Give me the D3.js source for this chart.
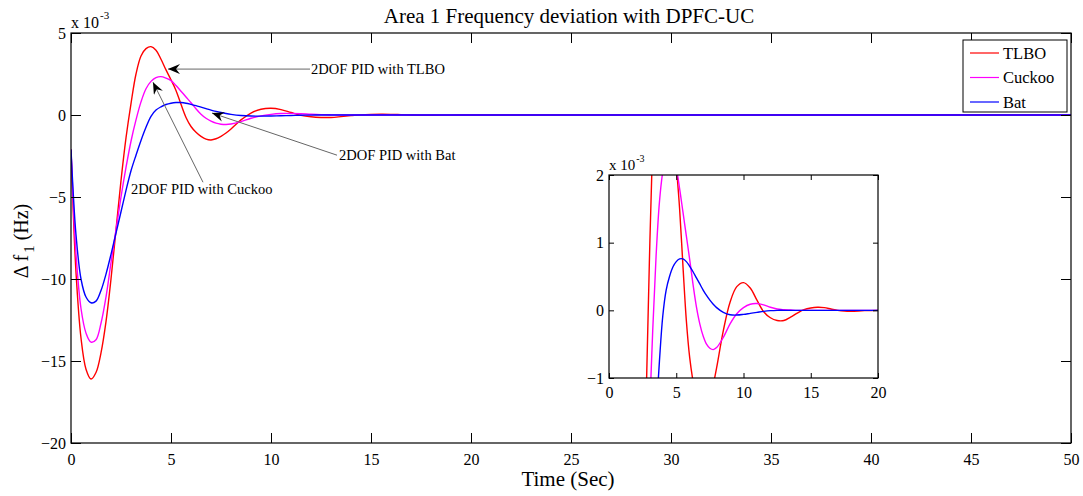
<!DOCTYPE html>
<html>
<head>
<meta charset="utf-8">
<script src="https://cdn.jsdelivr.net/npm/d3@7"></script>
<style>
  body { margin: 0; background: #fff; }
  svg text { font-family: "Liberation Serif", "Times New Roman", serif; fill: #000; }
</style>
</head>
<body>
<svg id="chart" width="1083" height="496"></svg>
<script>
// time (s) and frequency deviation (x 10^-3 Hz)
const time = [0, 0.1, 0.25, 0.5, 0.75, 1.0, 1.25, 1.5, 1.75, 2.0,
  2.25, 2.5, 2.75, 3.0, 3.25, 3.5, 3.75, 4.0, 4.25, 4.5,
  4.75, 5.0, 5.25, 5.5, 5.75, 6.0, 6.25, 6.5, 6.75, 7.0,
  7.25, 7.5, 7.75, 8.0, 8.5, 9.0, 9.5, 10, 10.5, 11,
  11.5, 12, 12.5, 13, 13.5, 14, 14.5, 15, 15.5, 16,
  16.5, 17, 17.5, 18, 19, 20, 25, 30, 40, 50];

const tlbo = [-2.1, -5.5, -9.6, -13.6, -15.5, -16.1, -15.7, -14.5, -12.6, -10.0,
  -7.0, -4.0, -1.4, 0.7, 2.5, 3.6, 4.05, 4.17, 3.95, 3.4,
  2.75, 2.15, 1.5, 0.65, -0.15, -0.7, -1.05, -1.3, -1.47, -1.52,
  -1.45, -1.3, -1.1, -0.85, -0.3, 0.12, 0.35, 0.41, 0.33, 0.15,
  -0.02, -0.11, -0.15, -0.15, -0.1, -0.04, 0.01, 0.035, 0.045, 0.04,
  0.02, 0.0, -0.012, -0.015, -0.005, 0, 0, 0, 0, 0];

const cuckoo = [-2.1, -5.0, -8.5, -11.8, -13.3, -13.85, -13.7, -12.7, -11.1, -9.0,
  -7.0, -5.0, -3.2, -1.6, -0.3, 0.8, 1.6, 2.05, 2.28, 2.34,
  2.25, 2.1, 1.8, 1.45, 1.1, 0.75, 0.38, 0.05, -0.2, -0.38,
  -0.5, -0.56, -0.58, -0.55, -0.4, -0.2, -0.05, 0.04, 0.09, 0.1,
  0.08, 0.045, 0.02, 0.01, 0.005, 0, 0, 0, 0, 0,
  0, 0, 0, 0, 0, 0, 0, 0, 0, 0];

const bat = [-2.1, -4.5, -7.3, -10.0, -11.1, -11.45, -11.35, -10.7, -9.7, -8.5,
  -7.2, -5.9, -4.6, -3.4, -2.45, -1.55, -0.75, -0.08, 0.3, 0.5,
  0.64, 0.72, 0.76, 0.76, 0.72, 0.65, 0.57, 0.48, 0.39, 0.3,
  0.22, 0.15, 0.09, 0.04, -0.03, -0.065, -0.07, -0.06, -0.045, -0.03,
  -0.015, -0.005, 0, 0, 0, 0, 0, 0, 0, 0,
  0, 0, 0, 0, 0, 0, 0, 0, 0, 0];

const seriesNames = ["TLBO", "Cuckoo", "Bat"];
const seriesColors = ["#ff0000", "#ff00ff", "#0000ff"];
const xTicks = [0, 5, 10, 15, 20, 25, 30, 35, 40, 45, 50];
const yTicks = [5, 0, -5, -10, -15, -20];
const insetXTicks = [0, 5, 10, 15, 20];
const insetYTicks = [-1, 0, 1, 2];
const noteLabels = ["2DOF PID with TLBO", "2DOF PID with Bat", "2DOF PID with Cuckoo"];

const series = [tlbo, cuckoo, bat].map((vals, i) => ({
  name: seriesNames[i],
  color: seriesColors[i],
  points: time.map((t, j) => [t, vals[j]])
}));

const svg = d3.select("#chart");
const tickFont = 16;

// ---- main axes ----
const main = {left: 71, top: 33, width: 1000, height: 410};
const x = d3.scaleLinear().domain([0, 50]).range([main.left, main.left + main.width]);
const y = d3.scaleLinear().domain([-20, 5]).range([main.top + main.height, main.top]);

const line = d3.line()
  .x(d => x(d[0]))
  .y(d => y(d[1]))
  .curve(d3.curveCatmullRom.alpha(0.5));

svg.append("clipPath").attr("id", "mainClip")
  .append("rect")
  .attr("x", main.left).attr("y", main.top)
  .attr("width", main.width).attr("height", main.height);

const plot = svg.append("g").attr("clip-path", "url(#mainClip)");
plot.selectAll("path.curve")
  .data(series)
  .join("path")
  .attr("class", "curve")
  .attr("fill", "none")
  .attr("stroke", d => d.color)
  .attr("stroke-width", 1.4)
  .attr("d", d => line(d.points));

// inward ticks on all four sides, matlab style
const tickLen = 10;
const axisStyle = g => {
  g.select(".domain").remove();
  g.selectAll(".tick line").attr("stroke", "#000");
  g.selectAll(".tick text").attr("font-size", tickFont).attr("font-family", "Liberation Serif");
};

svg.append("g")
  .attr("transform", `translate(0,${main.top + main.height})`)
  .call(d3.axisBottom(x).tickValues(xTicks).tickSize(-tickLen).tickPadding(11).tickFormat(d3.format("d")))
  .call(axisStyle);
svg.append("g")
  .attr("transform", `translate(0,${main.top})`)
  .call(d3.axisTop(x).tickValues(xTicks).tickSize(-tickLen).tickFormat(""))
  .call(axisStyle);
svg.append("g")
  .attr("transform", `translate(${main.left},0)`)
  .call(d3.axisLeft(y).tickValues(yTicks).tickSize(-tickLen).tickPadding(5).tickFormat(d3.format("d")))
  .call(axisStyle);
svg.append("g")
  .attr("transform", `translate(${main.left + main.width},0)`)
  .call(d3.axisRight(y).tickValues(yTicks).tickSize(-tickLen).tickFormat(""))
  .call(axisStyle);

svg.append("rect")
  .attr("x", main.left).attr("y", main.top)
  .attr("width", main.width).attr("height", main.height)
  .attr("fill", "none").attr("stroke", "#000").attr("stroke-width", 1.2);

// exponent label
const expMain = svg.append("text").attr("x", main.left).attr("y", 28).attr("font-size", 16);
expMain.append("tspan").text("x 10");
expMain.append("tspan").attr("dx", 1).attr("dy", -9).attr("font-size", 11).text("-3");

// title and axis labels
svg.append("text")
  .attr("x", 569).attr("y", 23)
  .attr("text-anchor", "middle").attr("font-size", 21)
  .text("Area 1 Frequency deviation with DPFC-UC");

svg.append("text")
  .attr("x", 568).attr("y", 486)
  .attr("text-anchor", "middle").attr("font-size", 21)
  .text("Time (Sec)");

const yLab = svg.append("text")
  .attr("transform", "translate(28,241) rotate(-90)")
  .attr("text-anchor", "middle").attr("font-size", 20);
yLab.append("tspan").text("\u0394 f");
yLab.append("tspan").attr("dx", 2).attr("dy", 6).attr("font-size", 15).text("1");
yLab.append("tspan").attr("dy", -6).text(" (Hz)");

// ---- annotations ----
svg.append("defs").append("marker")
  .attr("id", "arrowHead")
  .attr("viewBox", "0 -5 12 10")
  .attr("refX", 12).attr("refY", 0)
  .attr("markerWidth", 12).attr("markerHeight", 10)
  .attr("markerUnits", "userSpaceOnUse")
  .attr("orient", "auto")
  .append("path")
  .attr("d", "M0,-5 L12,0 L0,5 L4,0 Z")
  .attr("fill", "#000");

// [tail t, tail v, tip t, tip v, text t, text v]
const noteGeom = [
  [11.95, 2.8, 4.85, 2.8, 12.0, 2.8],
  [13.3, -2.45, 7.05, 0.12, 13.4, -2.45],
  [6.6, -4.1, 4.1, 2.0, 3.0, -4.5]
];
noteLabels.forEach((label, i) => {
  const g = noteGeom[i];
  svg.append("line")
    .attr("x1", x(g[0])).attr("y1", y(g[1]))
    .attr("x2", x(g[2])).attr("y2", y(g[3]))
    .attr("stroke", "#666").attr("stroke-width", 1)
    .attr("marker-end", "url(#arrowHead)");
  svg.append("text")
    .attr("x", x(g[4])).attr("y", y(g[5]))
    .attr("dy", "0.35em")
    .attr("font-size", 14.5)
    .text(label);
});

// ---- legend ----
const legend = svg.append("g");
legend.append("rect")
  .attr("x", 963).attr("y", 40).attr("width", 104).attr("height", 72)
  .attr("fill", "#fff").attr("stroke", "#000").attr("stroke-width", 1);
series.forEach((s, i) => {
  const ly = 53 + i * 24.5;
  legend.append("line")
    .attr("x1", 970).attr("x2", 999).attr("y1", ly).attr("y2", ly)
    .attr("stroke", s.color).attr("stroke-width", 1.2);
  legend.append("text")
    .attr("x", 1003).attr("y", ly)
    .attr("dy", "0.35em").attr("font-size", 16.5)
    .text(s.name);
});

// ---- inset zoom ----
const ins = {left: 609, top: 175, width: 269, height: 203};
const xi = d3.scaleLinear().domain([0, 20]).range([ins.left, ins.left + ins.width]);
const yi = d3.scaleLinear().domain([-1, 2]).range([ins.top + ins.height, ins.top]);

svg.append("rect")
  .attr("x", ins.left).attr("y", ins.top)
  .attr("width", ins.width).attr("height", ins.height)
  .attr("fill", "#fff");

svg.append("clipPath").attr("id", "insetClip")
  .append("rect")
  .attr("x", ins.left).attr("y", ins.top)
  .attr("width", ins.width).attr("height", ins.height);

const lineInset = d3.line()
  .x(d => xi(d[0]))
  .y(d => yi(d[1]))
  .curve(d3.curveCatmullRom.alpha(0.5));

svg.append("g").attr("clip-path", "url(#insetClip)")
  .selectAll("path")
  .data(series)
  .join("path")
  .attr("fill", "none")
  .attr("stroke", d => d.color)
  .attr("stroke-width", 1.4)
  .attr("d", d => lineInset(d.points.filter(p => p[0] <= 25)));

const insTick = 5;
svg.append("g")
  .attr("transform", `translate(0,${ins.top + ins.height})`)
  .call(d3.axisBottom(xi).tickValues(insetXTicks).tickSize(-insTick).tickPadding(9).tickFormat(d3.format("d")))
  .call(axisStyle);
svg.append("g")
  .attr("transform", `translate(0,${ins.top})`)
  .call(d3.axisTop(xi).tickValues(insetXTicks).tickSize(-insTick).tickFormat(""))
  .call(axisStyle);
svg.append("g")
  .attr("transform", `translate(${ins.left},0)`)
  .call(d3.axisLeft(yi).tickValues(insetYTicks).tickSize(-insTick).tickPadding(5).tickFormat(d3.format("d")))
  .call(axisStyle);
svg.append("g")
  .attr("transform", `translate(${ins.left + ins.width},0)`)
  .call(d3.axisRight(yi).tickValues(insetYTicks).tickSize(-insTick).tickFormat(""))
  .call(axisStyle);

svg.append("rect")
  .attr("x", ins.left).attr("y", ins.top)
  .attr("width", ins.width).attr("height", ins.height)
  .attr("fill", "none").attr("stroke", "#000").attr("stroke-width", 1.2);

const expIns = svg.append("text").attr("x", ins.left).attr("y", 170).attr("font-size", 15);
expIns.append("tspan").text("x 10");
expIns.append("tspan").attr("dx", 1).attr("dy", -8).attr("font-size", 10).text("-3");
</script>
</body>
</html>
